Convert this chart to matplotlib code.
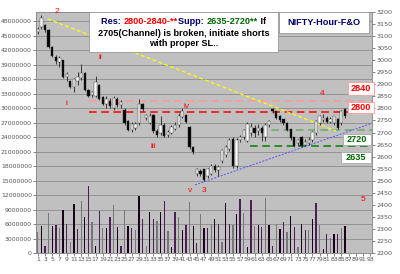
import matplotlib
matplotlib.use("Agg")
import matplotlib.pyplot as plt
import numpy as np

# hourly NIFTY F&O candles (right axis) and volume (left axis)
opens = [3115, 3135, 3142, 3122, 3052, 3012, 2990, 2998, 2930, 2910,
         2890, 2915, 2925, 2945, 2872, 2855, 2852, 2895, 2845, 2818,
         2830, 2800, 2835, 2812, 2792, 2745, 2712, 2720, 2738, 2818,
         2760, 2740, 2772, 2705, 2700, 2730, 2690, 2700, 2715, 2730,
         2765, 2770, 2720, 2640, 2530, 2540, 2545, 2520, 2530, 2560,
         2545, 2580, 2605, 2630, 2670, 2560, 2668, 2680, 2665, 2700,
         2715, 2705, 2715, 2680, 2730, 2797, 2786, 2765, 2752, 2738,
         2712, 2678, 2655, 2680, 2650, 2655, 2668, 2697, 2738, 2750,
         2760, 2745, 2740, 2755, 2738, 2794]
highs = [3137, 3185, 3150, 3130, 3058, 3020, 3018, 3002, 2950, 2915,
         2925, 2950, 2985, 2950, 2878, 2872, 2932, 2900, 2850, 2850,
         2842, 2852, 2845, 2835, 2800, 2750, 2745, 2745, 2840, 2822,
         2778, 2780, 2778, 2715, 2770, 2740, 2710, 2730, 2745, 2780,
         2800, 2775, 2725, 2645, 2555, 2548, 2550, 2555, 2568, 2568,
         2565, 2632, 2650, 2678, 2680, 2678, 2690, 2715, 2745, 2740,
         2730, 2735, 2725, 2740, 2752, 2800, 2790, 2772, 2755, 2742,
         2715, 2682, 2675, 2685, 2672, 2680, 2705, 2750, 2772, 2775,
         2770, 2765, 2770, 2760, 2795, 2800]
lows = [3108, 3128, 3118, 3048, 3012, 2985, 2972, 2925, 2915, 2885,
        2868, 2895, 2918, 2872, 2848, 2845, 2845, 2835, 2812, 2800,
        2800, 2792, 2805, 2800, 2732, 2705, 2702, 2710, 2730, 2790,
        2752, 2735, 2700, 2680, 2690, 2680, 2682, 2692, 2710, 2722,
        2758, 2738, 2632, 2612, 2520, 2518, 2498, 2512, 2525, 2535,
        2520, 2575, 2600, 2625, 2555, 2552, 2660, 2672, 2660, 2685,
        2680, 2690, 2665, 2665, 2722, 2780, 2755, 2745, 2730, 2705,
        2670, 2640, 2645, 2640, 2643, 2648, 2662, 2690, 2732, 2745,
        2738, 2740, 2732, 2715, 2732, 2762]
closes = [3128, 3172, 3125, 3055, 3018, 2995, 3005, 2930, 2942, 2888,
          2920, 2928, 2945, 2876, 2853, 2865, 2908, 2840, 2820, 2835,
          2808, 2842, 2815, 2825, 2738, 2710, 2732, 2735, 2815, 2797,
          2770, 2768, 2705, 2690, 2730, 2685, 2700, 2720, 2730, 2765,
          2785, 2745, 2640, 2620, 2545, 2528, 2505, 2548, 2560, 2545,
          2555, 2625, 2640, 2668, 2560, 2668, 2680, 2710, 2735, 2720,
          2700, 2715, 2700, 2730, 2745, 2787, 2760, 2752, 2738, 2712,
          2676, 2645, 2665, 2645, 2660, 2668, 2700, 2745, 2765, 2760,
          2745, 2755, 2765, 2720, 2788, 2770]
volume = [4.4, 5.6, 1.45, 8.3, 5.7, 5.9, 5.3, 8.9, 6.1, 2.3,
          10.3, 5.0, 10.8, 7.6, 13.9, 6.4, 1.6, 8.7, 5.2, 5.3,
          7.6, 10.0, 5.5, 1.6, 8.9, 5.7, 5.3, 4.8, 11.9, 7.2,
          1.6, 8.6, 7.2, 6.7, 8.5, 10.8, 4.6, 1.3, 8.5, 7.6,
          4.8, 5.8, 10.6, 5.6, 2.2, 8.1, 5.3, 5.3, 6.1, 7.2,
          6.0, 2.3, 10.5, 6.1, 5.8, 8.1, 11.3, 8.3, 1.4, 11.1,
          5.6, 5.8, 5.4, 11.5, 5.8, 1.6, 6.1, 5.1, 6.5, 4.5,
          7.7, 5.4, 1.3, 6.1, 4.8, 4.9, 7.2, 10.4, 5.8, 0.8,
          4.0, 3.2, 4.0, 3.9, 5.3, 5.6]  # millions

levels = [("2840", 2832, "#ff9999", 15.1), ("2800", 2784, "#ff0000", 15.1),
          ("2720", 2711, "#66aa66", 58.9), ("2635", 2644, "#008000", 59.7)]
waves = [("2", 6.3, 3199), ("ii", 18.2, 3009), ("i", 9.0, 2822),
         ("iii", 32.9, 2644), ("iv", 42.3, 2806), ("v", 43.1, 2462),
         ("3", 47.0, 2462), ("4", 79.7, 2860), ("5", 91.0, 2421)]

n = len(closes)
x = np.arange(1, n + 1)
vol = np.array(volume) * 1e6
o = np.array(opens); c = np.array(closes)

fig = plt.figure(figsize=(4, 2.74), dpi=100)
ax = fig.add_axes([36 / 400, 1 - 253.3 / 274, 336 / 400, 241.6 / 274])
ax.set_facecolor("#c0c0c0")
vcols = ["#777777", "#1a001a", "#4b1f55"]
ax.bar(x, vol, width=0.35, color=[vcols[i % 3] for i in range(n)], zorder=2)
ax.set_xlim(0.5, 93.5)
ax.set_ylim(0, 50e6)
ax.set_yticks(np.arange(0, 48e6 + 1, 3e6))
ax.set_yticklabels([str(int(v)) for v in np.arange(0, 48e6 + 1, 3e6)])
ax.set_xticks(np.arange(1, 94, 2))
ax.grid(axis="y", color="#8c8c8c", lw=0.6, zorder=0)
ax.tick_params(labelsize=4.4, colors="#555555", length=2, width=0.5, pad=1)

ax2 = ax.twinx()
ax2.set_ylim(2200, 3200)
ax2.set_yticks(np.arange(2200, 3201, 50))
ax2.tick_params(labelsize=4.6, colors="#555555", length=2, width=0.5, pad=1)
for s in list(ax.spines.values()) + list(ax2.spines.values()):
    s.set_color("#888888"); s.set_linewidth(0.5)

# reference lines
for lab, p, col, x0 in levels:
    ax2.plot([x0, 93.5], [p, p], color=col, lw=1.1, ls=(0, (5, 3)), zorder=2)
ax2.plot([3.77, 83.5], [3170, 2707], color="#ffff00", lw=0.9, ls=(0, (3, 2)), zorder=2)
ax2.plot([44.5, 93.8], [2483, 2740], color="#5555ff", lw=0.7, ls=(0, (2, 1.5)), zorder=2)

# candles
ax2.vlines(x, lows, highs, color="#222222", lw=0.6, zorder=3)
up = c >= o
ax2.bar(x, np.abs(c - o) + 2, bottom=np.minimum(o, c), width=0.65,
        color=np.where(up, "white", "black"), edgecolor="#333333", lw=0.3, zorder=4)

for t, cx, py in waves:
    ax2.text(cx, py, t, color="red", fontsize=6, ha="center", va="center",
             family="Liberation Sans", zorder=5)

# text boxes
def pbox(x0, y0, x1, y1, ec="#999999"):
    fig.patches.append(plt.Rectangle((x0 / 400, 1 - y1 / 274), (x1 - x0) / 400,
                                     (y1 - y0) / 274, transform=fig.transFigure,
                                     facecolor="white", edgecolor=ec, lw=0.6, zorder=6))

pbox(89, 12, 278, 52)
pbox(279, 12, 369, 33)
fp = dict(family="Liberation Sans", fontsize=6.6, fontweight="bold", zorder=7)
fig.text(324 / 400, 1 - 22.5 / 274, "NIFTY-Hour-F&O", color="#000066",
         ha="center", va="center", **fp)
fig.text(183.5 / 400, 1 - 33 / 274, "2705(Channel) is broken, initiate shorts",
         color="black", ha="center", va="center", **fp)
fig.text(183.5 / 400, 1 - 44 / 274, "with proper SL..", color="black",
         ha="center", va="center", **fp)
parts = [("Res: ", "#000066"), ("2800-2840-**", "red"), ("Supp: ", "#000066"),
         ("2635-2720**", "#006600"), (" If", "black")]
r = fig.canvas.get_renderer()
widths = []
for s, col in parts:
    t = fig.text(0, 0, s, **fp)
    widths.append(t.get_window_extent(r).width)
    t.remove()
xp = 183.5 - sum(widths) / 2
for (s, col), w in zip(parts, widths):
    fig.text(xp / 400, 1 - 22 / 274, s, color=col, ha="left", va="center", **fp)
    xp += w

for (lab, p, col, x0), (bx0, by0, bx1, by1) in zip(
        levels, [(348, 82, 374, 95), (348, 102, 374, 113),
                 (343, 134, 371, 145), (341, 152, 371, 163)]):
    tc = "red" if lab in ("2840", "2800") else "#006600"
    ec = "#ff9999" if tc == "red" else "#aaaaaa"
    pbox(bx0, by0, bx1, by1, ec)
    fig.text((bx0 + bx1) / 800, 1 - (by0 + by1) / 548, lab, color=tc,
             ha="center", va="center", **fp)

fig.savefig("out.png", dpi=100)
